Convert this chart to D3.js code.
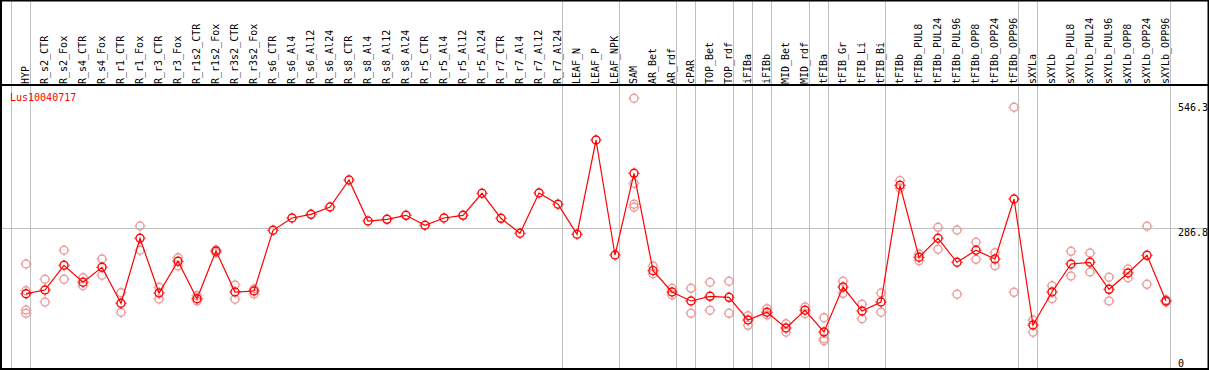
<!DOCTYPE html>
<html>
<head>
<meta charset="utf-8">
<script src="https://cdn.jsdelivr.net/npm/d3@7"></script>
<style>
  html, body { margin: 0; padding: 0; background: #fff; }
  svg { display: block; }
  text { font-family: "DejaVu Sans Mono", "Liberation Mono", monospace; font-size: 10px; }
</style>
</head>
<body>
<svg id="chart" width="1209" height="370"></svg>
<script>
const geneName = "Lus10040717";

const categories = [
  "HYP","R_s2_CTR","R_s2_Fox","R_s4_CTR","R_s4_Fox","R_r1_CTR","R_r1_Fox","R_r3_CTR","R_r3_Fox",
  "R_r1s2_CTR","R_r1s2_Fox","R_r3s2_CTR","R_r3s2_Fox",
  "R_s6_CTR","R_s6_Al4","R_s6_Al12","R_s6_Al24","R_s8_CTR","R_s8_Al4","R_s8_Al12","R_s8_Al24",
  "R_r5_CTR","R_r5_Al4","R_r5_Al12","R_r5_Al24","R_r7_CTR","R_r7_Al4","R_r7_Al12","R_r7_Al24",
  "LEAF_N","LEAF_P","LEAF_NPK","SAM","AR_Bet","AR_rdf","cPAR","TOP_Bet","TOP_rdf","iFIBa","iFIBb",
  "MID_Bet","MID_rdf","tFIBa","tFIB_Gr","tFIB_Li","tFIB_Bi","tFIBb",
  "tFIBb_PUL8","tFIBb_PUL24","tFIBb_PUL96","tFIBb_OPP8","tFIBb_OPP24","tFIBb_OPP96",
  "sXYLa","sXYLb","sXYLb_PUL8","sXYLb_PUL24","sXYLb_PUL96","sXYLb_OPP8","sXYLb_OPP24","sXYLb_OPP96"
];

const means = [
  151.1,158.8,210.1,174.8,205.9,131.2,266.1,152.6,218.4,
  140.7,239.7,154.6,156.7,
  282.7,308.2,315.9,331.1,387.1,302.0,305.5,313.8,
  293.1,308.2,313.8,359.5,307.6,276.5,360.1,336.7,
  274.4,470.1,231.4,401.0,198.9,154.6,136.0,145.7,143.6,96.5,112.5,
  79.9,116.7,71.6,165.0,115.2,133.9,376.1,
  226.7,266.1,216.3,241.2,223.1,347.7,
  86.1,154.6,212.8,216.3,160.2,194.1,230.8,136.0
];

const replicates = [
  [212.8,157.3,117.3,110.4],[181.0,133.9],[241.2,181.0],[184.3,167.7],[223.1,189.3],
  [153.2,112.5],[291.6,241.2],[164.4,140.1],[225.8,208.6],
  [147.0,136.0],[241.8,236.2],[169.2,139.5],[160.9,150.5],
  [],[],[],[],[],[],[],[],
  [],[],[],[],[],[],[],[],
  [],[],[],[556.7,380.3,336.7,330.5],[208.6,192.0],[162.3,148.4],[162.3,110.4],[174.8,116.7],[176.9,110.4],
  [105.4,85.5],[120.0,106.9],
  [88.8,71.0],[123.5,109.6],[101.3,57.7,53.6],[176.9,151.9],[129.1,99.2],[152.6,112.5],[385.7,369.9],
  [233.5,219.6],[288.9,243.3],[283.3,149.9],[257.8,222.5],[236.2,209.2],[538.0,154.0],
  [96.5,71.0],[167.7,140.7],[239.1,187.9],[235.6,196.2],[185.2,136.0],[202.4,184.3],[291.0,170.6],[138.0,133.9]
];

// index of the last category of each group (a separator is drawn after it); -1 = before the first
const groupEnds = [-1, 0, 28, 31, 34, 35, 37, 38, 39, 41, 42, 45, 52, 53, 60];

const tickValues = [0, 286.8, 546.3];
const tickLabels = ["0", "286.8", "546.3"];
const gridValues = [286.8];

const W = 1209, H = 370;
const svg = d3.select("#chart");

const x = d3.scalePoint().domain(categories).range([26, 1166]);
const y = d3.scaleLinear().domain([0, 546.3]).range([366.5, 103.3]);
const step = x.step();

// separators
const sepX = i => Math.floor((i < 0 ? x(categories[0]) - step : x(categories[i])) + 4.3) + 0.5;
svg.append("g").selectAll("line").data(groupEnds).join("line")
  .attr("x1", sepX).attr("x2", sepX).attr("y1", 0).attr("y2", H)
  .attr("stroke", "#c0c0c0").attr("stroke-width", 1);

// horizontal grid
svg.append("g").selectAll("line").data(gridValues).join("line")
  .attr("x1", 0).attr("x2", W)
  .attr("y1", d => Math.round(y(d)) + 0.5).attr("y2", d => Math.round(y(d)) + 0.5)
  .attr("stroke", "#c0c0c0").attr("stroke-width", 1);

// header separator and frame
svg.append("line").attr("x1", 0).attr("x2", W).attr("y1", 85).attr("y2", 85)
  .attr("stroke", "#000").attr("stroke-width", 2);
svg.append("rect").attr("x", 1).attr("y", 0.5).attr("width", W - 1.5).attr("height", H - 1.5)
  .attr("fill", "none").attr("stroke", "#000").attr("stroke-width", 2);

// category labels
svg.append("g").selectAll("text").data(categories).join("text")
  .attr("transform", d => `translate(${x(d) + 3},84) rotate(-90)`)
  .attr("text-anchor", "start")
  .attr("fill", "#000")
  .text(d => d);

// right axis labels
svg.append("g").selectAll("text").data(tickValues).join("text")
  .attr("x", 1178)
  .attr("y", d => Math.min(y(d) + 7.5, 366.5))
  .attr("fill", "#000")
  .text((d, i) => tickLabels[i]);

// title
svg.append("text").attr("x", 10).attr("y", 100.5).attr("fill", "#ff0000").text(geneName);

function marker(sel, color) {
  sel.append("circle").attr("r", 4).attr("fill", "none")
    .attr("stroke", color).attr("stroke-width", 1.4);
  sel.append("path")
    .attr("d", "M0,-5.6V-4.4M0,4.4V5.6M-5.6,0H-4.4M4.4,0H5.6")
    .attr("stroke", color).attr("stroke-width", 1);
}

// replicates
const repPts = [];
replicates.forEach((arr, i) => arr.forEach(v => repPts.push({c: categories[i], v})));
svg.append("g").selectAll("g").data(repPts).join("g")
  .attr("transform", d => `translate(${x(d.c)},${y(d.v)})`)
  .call(marker, "#eb9a9a");

// mean line
const line = d3.line().x((d, i) => x(categories[i])).y(d => y(d));
svg.append("path").datum(means).attr("d", line)
  .attr("fill", "none").attr("stroke", "#ff0000").attr("stroke-width", 1.2);

// mean markers
svg.append("g").selectAll("g").data(means).join("g")
  .attr("transform", (d, i) => `translate(${x(categories[i])},${y(d)})`)
  .call(marker, "#ff0000");
</script>
</body>
</html>
